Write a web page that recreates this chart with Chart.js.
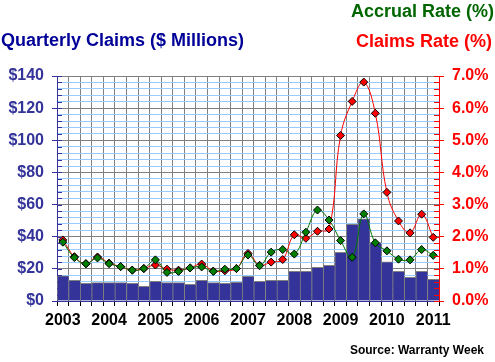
<!DOCTYPE html>
<html>
<head>
<meta charset="utf-8">
<script src="https://cdn.jsdelivr.net/npm/chart.js@4.4.1/dist/chart.umd.min.js"></script>
<style>
    html, body { margin: 0; padding: 0; background: #fff; }
    #wrap { position: relative; width: 495px; height: 362px; font-family: 'Liberation Sans', Arial, sans-serif; font-weight: bold; }
    #wrap canvas { position: absolute; left: 0; top: 0; }
    .lbl { position: absolute; white-space: nowrap; }
    #t-accrual { right: 1px; top: 2px; font-size: 18px; line-height: 18px; color: #006600; }
    #t-claims { left: 1px; top: 31px; font-size: 18px; line-height: 18px; color: #000099; }
    #t-rate { right: 3px; top: 32px; font-size: 18px; line-height: 18px; color: #ff0000; }
    #t-source { right: 11px; top: 344px; font-size: 12px; line-height: 12px; color: #000; }
</style>
</head>
<body>
<div id="wrap">
    <canvas id="claimsChart" width="495" height="362"></canvas>
    <div class="lbl" id="t-accrual">Accrual Rate (%)</div>
    <div class="lbl" id="t-claims">Quarterly Claims ($ Millions)</div>
    <div class="lbl" id="t-rate">Claims Rate (%)</div>
    <div class="lbl" id="t-source">Source: Warranty Week</div>
</div>
<script>
// quarterly data, 2003 Q1 .. 2011 Q1
const years = ['2003', '2004', '2005', '2006', '2007', '2008', '2009', '2010', '2011'];
const quarters = [];
years.forEach(y => ['Q1', 'Q2', 'Q3', 'Q4'].forEach(q => quarters.push(y + ' ' + q)));
quarters.length = 33;

const claimsMillions = [15.6, 12.9, 11.0, 11.4, 11.4, 11.4, 11.0, 9.1, 12.2, 11.4, 11.4, 10.4,
    12.9, 11.4, 11.0, 11.6, 15.4, 12.2, 12.9, 12.9, 18.5, 18.5, 21.0, 22.2,
    30.3, 47.7, 51.2, 36.3, 24.3, 18.5, 14.7, 18.5, 13.5];
const accrualRate = [1.83, 1.35, 1.16, 1.34, 1.16, 1.07, 0.96, 1.01, 1.28, 0.89, 0.92, 1.03,
    1.06, 0.92, 0.99, 1.01, 1.43, 1.10, 1.52, 1.60, 1.46, 2.14, 2.83, 2.52,
    1.88, 1.36, 2.71, 1.81, 1.56, 1.30, 1.28, 1.60, 1.42];
const claimsRate = [1.90, 1.38, 1.16, 1.37, 1.18, 1.07, 0.96, 1.01, 1.12, 0.99, 0.96, 1.03,
    1.15, 0.93, 0.94, 1.01, 1.48, 1.11, 1.21, 1.29, 2.06, 1.95, 2.17, 2.24,
    5.15, 6.21, 6.81, 5.84, 3.38, 2.49, 2.12, 2.70, 1.98];

(function() {
    const NAVY = '#333399';
    const RED = '#ff0000';
    const GRAY = '#808080';
    const LIGHTBLUE = '#99ccff';
    const tickFont = { family: "'Liberation Sans', Arial, sans-serif", size: 16, weight: 'bold' };

    function isWhole(v) { return Math.abs(v - Math.round(v)) < 1e-6; }

    // short tick marks drawn inside the plot, over the bars
    const innerTicks = {
        id: 'innerTicks',
        afterDatasetsDraw(chart) {
            const ctx = chart.ctx;
            const area = chart.chartArea;
            ctx.save();
            ctx.lineWidth = 1;
            const y = chart.scales.y;
            ctx.strokeStyle = NAVY;
            ctx.beginPath();
            y.ticks.forEach(t => {
                const p = Math.round(y.getPixelForValue(t.value)) + 0.5;
                ctx.moveTo(area.left, p);
                ctx.lineTo(area.left + 5, p);
            });
            ctx.stroke();
            const y2 = chart.scales.y2;
            ctx.strokeStyle = RED;
            ctx.beginPath();
            y2.ticks.forEach(t => {
                const p = Math.round(y2.getPixelForValue(t.value)) + 0.5;
                ctx.moveTo(area.right - 5, p);
                ctx.lineTo(area.right, p);
            });
            ctx.stroke();
            ctx.restore();
        }
    };

    function initChart() {
        const ctx = document.getElementById('claimsChart').getContext('2d');
        new Chart(ctx, {
            type: 'bar',
            data: {
                labels: quarters,
                datasets: [{
                    type: 'line',
                    label: 'Accrual Rate (%)',
                    data: accrualRate,
                    yAxisID: 'y2',
                    order: 0,
                    borderColor: '#007700',
                    borderWidth: 1,
                    tension: 0.4,
                    pointStyle: 'rectRot',
                    pointRadius: 4,
                    pointBackgroundColor: '#008000',
                    pointBorderColor: '#000',
                    pointBorderWidth: 1
                }, {
                    type: 'line',
                    label: 'Claims Rate (%)',
                    data: claimsRate,
                    yAxisID: 'y2',
                    order: 1,
                    borderColor: RED,
                    borderWidth: 1,
                    tension: 0.4,
                    pointStyle: 'rectRot',
                    pointRadius: 4,
                    pointBackgroundColor: RED,
                    pointBorderColor: '#000',
                    pointBorderWidth: 1
                }, {
                    label: 'Quarterly Claims ($ Millions)',
                    data: claimsMillions,
                    yAxisID: 'y',
                    order: 2,
                    backgroundColor: NAVY,
                    borderColor: GRAY,
                    borderWidth: { top: 1, left: 1, right: 0, bottom: 0 },
                    borderSkipped: false,
                    barPercentage: 1,
                    categoryPercentage: 1
                }]
            },
            options: {
                responsive: false,
                animation: false,
                devicePixelRatio: 1,
                layout: { padding: { top: 76, left: 0, right: 0, bottom: 0 } },
                plugins: { legend: { display: false }, tooltip: { enabled: false } },
                scales: {
                    x: {
                        offset: true,
                        grid: { offset: true, color: GRAY, tickColor: '#000', tickLength: 5 },
                        border: { color: NAVY },
                        ticks: {
                            autoSkip: false, maxRotation: 0, minRotation: 0,
                            padding: 5, color: '#000', font: tickFont,
                            callback: (v, i) => i % 4 === 0 ? years[i / 4] : ''
                        },
                        afterFit: s => { s.height = 61; }
                    },
                    y: {
                        position: 'left',
                        min: 0, max: 140,
                        grid: {
                            color: c => c.tick.value % 20 === 0 ? GRAY : LIGHTBLUE,
                            tickColor: c => c.tick.value % 20 === 0 ? NAVY : 'rgba(0,0,0,0)',
                            tickLength: 5
                        },
                        border: { color: NAVY },
                        ticks: {
                            stepSize: 4, autoSkip: false, padding: 8, color: NAVY, font: tickFont,
                            callback: v => v % 20 === 0 ? '$' + v : ''
                        },
                        afterFit: s => { s.width = 57; }
                    },
                    y2: {
                        position: 'right',
                        min: 0, max: 7,
                        grid: {
                            drawOnChartArea: false,
                            tickColor: c => isWhole(c.tick.value) ? RED : 'rgba(0,0,0,0)',
                            tickLength: 5
                        },
                        border: { color: RED },
                        ticks: {
                            stepSize: 0.2, autoSkip: false, padding: 8, color: RED, font: tickFont,
                            callback: v => isWhole(v) ? v.toFixed(1) + '%' : ''
                        },
                        afterFit: s => { s.width = 56; }
                    }
                }
            },
            plugins: [innerTicks]
        });
    }

    initChart();
})();
</script>
</body>
</html>
